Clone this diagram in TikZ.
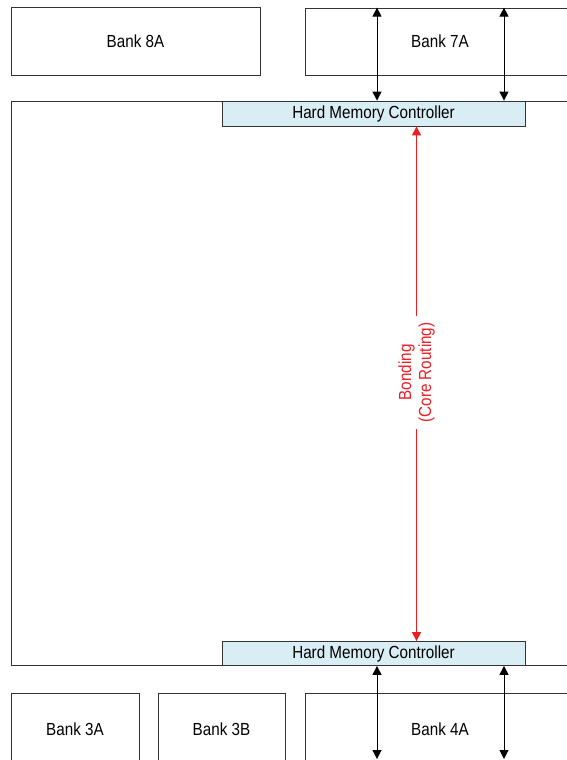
\documentclass[tikz,border=0pt]{standalone}
\usepackage{fontspec}
\setmainfont{Liberation Sans}[FakeStretch=0.87]
\usetikzlibrary{arrows.meta, positioning}
\definecolor{hmcblue}{RGB}{216,238,244}
\definecolor{bondred}{RGB}{235,30,38}

\begin{document}
\begin{tikzpicture}[
  x=1pt,y=-1pt,>={Triangle[length=9pt,width=9pt]},
  every node/.style={font=\fontsize{17.5}{20}\selectfont, inner sep=0pt},
  bank/.style={draw=black!80,line width=.8pt,rectangle},
  hmc/.style={bank,fill=hmcblue},
  every edge/.style={draw=black,line width=1pt}]

  \useasboundingbox (0,0) rectangle (567,760);

  \node[bank, minimum width=564pt, minimum height=564pt] (core)   at (293,   383)   {};
  \node[hmc,  minimum width=303pt, minimum height=25pt]  (hmctop) at (373.5, 113.5) {Hard Memory Controller};
  \node[hmc,  minimum width=303pt, minimum height=24pt]  (hmcbot) at (373.5, 653.5) {Hard Memory Controller};
  \node[bank, minimum width=249pt, minimum height=68pt]  (b8a)    at (135.5, 41)    {Bank 8A};
  \node[bank, minimum width=270pt, minimum height=67pt]  (b7a)    at (440,   41.5)  {Bank 7A};
  \node[bank, minimum width=128pt, minimum height=72pt]  (b3a)    at (75,    729)   {Bank 3A};
  \node[bank, minimum width=127pt, minimum height=72pt]  (b3b)    at (221.5, 729)   {Bank 3B};
  \node[bank, minimum width=270pt, minimum height=72pt]  (b4a)    at (440,   729)   {Bank 4A};

  \coordinate [right=3.5pt   of hmctop.north] (hmcNL);
  \coordinate [right=130.5pt of hmctop.north] (hmcNR);
  \coordinate [right=3.5pt   of hmcbot.south] (hmcSL);
  \coordinate [right=130.5pt of hmcbot.south] (hmcSR);
  \coordinate [right=43pt    of hmctop.south] (bondT);
  \coordinate (endL) at (377, 759);
  \coordinate (endR) at (504, 759);

  \path[<->]
    (b7a.north-|hmcNL)  edge[] (hmcNL)
    (b7a.north-|hmcNR)  edge[] (hmcNR)
    (hmcSL)             edge[] (endL)
    (hmcSR)             edge[] (endR)
  ;

  \draw[<->, bondred, line width=1.2pt]
    (bondT) -- node[pos=.478, rotate=90, align=center, fill=white, inner sep=7pt]
      {Bonding\\(Core Routing)} (hmcbot.north-|bondT);

\end{tikzpicture}
\end{document}
